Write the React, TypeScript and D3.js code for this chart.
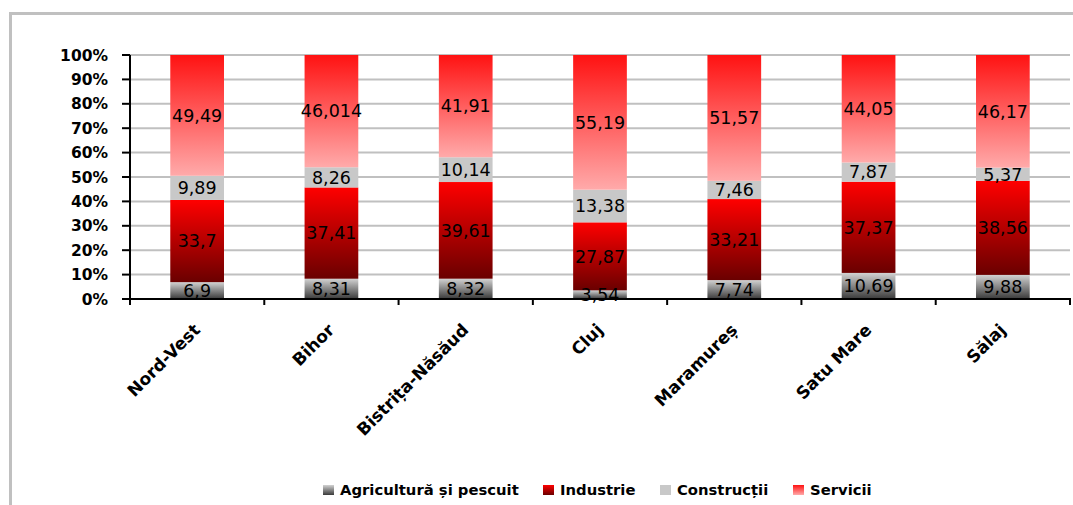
import React from "react";
import * as d3 from "d3";

const categories = ["Nord-Vest", "Bihor", "Bistrița-Năsăud", "Cluj", "Maramureș", "Satu Mare", "Sălaj"];
const seriesNames = ["Agricultură și pescuit", "Industrie", "Construcții", "Servicii"];
const labelTexts = [
  ["6,9", "8,31", "8,32", "3,54", "7,74", "10,69", "9,88"],
  ["33,7", "37,41", "39,61", "27,87", "33,21", "37,37", "38,56"],
  ["9,89", "8,26", "10,14", "13,38", "7,46", "7,87", "5,37"],
  ["49,49", "46,014", "41,91", "55,19", "51,57", "44,05", "46,17"],
];
const agricultura = [6.9, 8.31, 8.32, 3.54, 7.74, 10.69, 9.88];
const industrie = [33.7, 37.41, 39.61, 27.87, 33.21, 37.37, 38.56];
const constructii = [9.89, 8.26, 10.14, 13.38, 7.46, 7.87, 5.37];
const servicii = [49.49, 46.014, 41.91, 55.19, 51.57, 44.05, 46.17];
const yTicks = [0, 0.1, 0.2, 0.3, 0.4, 0.5, 0.6, 0.7, 0.8, 0.9, 1];

const W = 1073, H = 505;
const plot = { left: 130, right: 1070, top: 55, bottom: 299 };
const legendX = [323, 543, 660, 793];
const fills = ["url(#gAgr)", "url(#gInd)", "#c8c8c8", "url(#gSer)"];

export default function App() {
  const series = [agricultura, industrie, constructii, servicii];
  const rows = categories.map((c, i) => {
    const o: any = { cat: c };
    series.forEach((s, k) => (o["s" + k] = s[i]));
    return o;
  });
  const stacked = d3
    .stack()
    .keys(["s0", "s1", "s2", "s3"])
    .offset(d3.stackOffsetExpand)(rows as any);

  const x = d3.scaleBand().domain(categories).range([plot.left, plot.right]).paddingInner(0.6).paddingOuter(0.3);
  const xb = d3.scaleBand().domain(categories).range([plot.left, plot.right]);
  const y = d3.scaleLinear().domain([0, 1]).range([plot.bottom, plot.top]);
  const font = "'DejaVu Sans', Verdana, sans-serif";

  return (
    <svg width={W} height={H} style={{ position: "absolute", left: 0, top: 0, background: "#fff" }} fontFamily={font}>
      <defs>
        <linearGradient id="gAgr" x1="0" y1="0" x2="0" y2="1">
          <stop offset="0" stopColor="#d2d2d2" />
          <stop offset="1" stopColor="#3a3a3a" />
        </linearGradient>
        <linearGradient id="gInd" x1="0" y1="0" x2="0" y2="1">
          <stop offset="0" stopColor="#ff0000" />
          <stop offset="1" stopColor="#6a0000" />
        </linearGradient>
        <linearGradient id="gSer" x1="0" y1="0" x2="0" y2="1">
          <stop offset="0" stopColor="#ff1212" />
          <stop offset="1" stopColor="#ffaaaa" />
        </linearGradient>
      </defs>
      <rect x={10.5} y={13.5} width={W + 20} height={H + 20} fill="none" stroke="#c0c0c0" strokeWidth={3} />
      {yTicks.slice(1).map((t) => (
        <line key={t} x1={plot.left} x2={plot.right} y1={y(t)} y2={y(t)} stroke="#c0c0c0" strokeWidth={2} />
      ))}
      {stacked.map((layer, k) => (
        <g key={k}>
          {layer.map((d, i) => (
            <rect key={i} x={x(categories[i])} width={x.bandwidth()} y={y(d[1])} height={y(d[0]) - y(d[1])} fill={fills[k]} />
          ))}
        </g>
      ))}
      <line x1={plot.left} x2={plot.left} y1={plot.top} y2={plot.bottom} stroke="#000" strokeWidth={2} />
      <line x1={plot.left - 1} x2={plot.right + 1} y1={plot.bottom} y2={plot.bottom} stroke="#000" strokeWidth={2} />
      {yTicks.map((t) => (
        <g key={t}>
          <line x1={plot.left - 8} x2={plot.left} y1={y(t)} y2={y(t)} stroke="#000" strokeWidth={2} />
          <text x={108} y={y(t)} dy="0.36em" textAnchor="end" fontWeight="bold" fontSize={15.5} fill="#000">
            {Math.round(t * 100) + "%"}
          </text>
        </g>
      ))}
      {categories.map((c, i) => (
        <line key={"t" + i} x1={xb(c)} x2={xb(c)} y1={plot.bottom} y2={plot.bottom + 6} stroke="#000" strokeWidth={2} />
      ))}
      <line x1={plot.right} x2={plot.right} y1={plot.bottom} y2={plot.bottom + 6} stroke="#000" strokeWidth={2} />
      {stacked.map((layer, k) =>
        layer.map((d, i) => (
          <text key={k + "-" + i} x={x(categories[i])! + x.bandwidth() / 2} y={(y(d[0]) + y(d[1])) / 2} dy="0.36em"
            textAnchor="middle" fontSize={17.5} fill="#000">
            {labelTexts[k][i]}
          </text>
        ))
      )}
      {categories.map((c, i) => {
        const cx = xb(c)! + xb.bandwidth() / 2 + 4;
        const cy = 331;
        return (
          <text key={"c" + i} x={cx} y={cy} textAnchor="end" fontWeight="bold" fontSize={17} transform={`rotate(-45 ${cx} ${cy})`}>
            {c}
          </text>
        );
      })}
      {seriesNames.map((n, k) => (
        <g key={n}>
          <rect x={legendX[k]} y={485} width={11} height={10} fill={fills[k]} />
          <text x={legendX[k] + 17} y={490} dy="0.36em" fontWeight="bold" fontSize={14.8}>
            {n}
          </text>
        </g>
      ))}
    </svg>
  );
}
